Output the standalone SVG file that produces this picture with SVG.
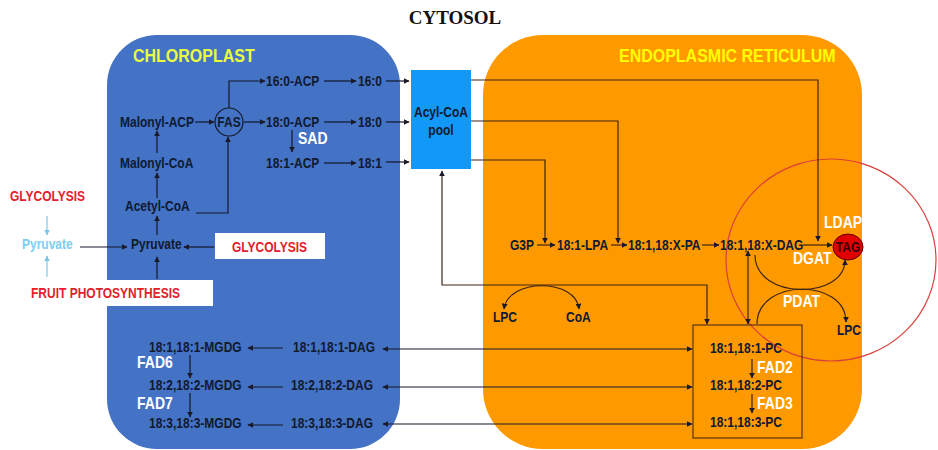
<svg xmlns="http://www.w3.org/2000/svg" width="938" height="450" viewBox="0 0 938 450">
<defs>
<marker id="ah" viewBox="0 0 10 10" refX="9" refY="5" markerWidth="6" markerHeight="6" markerUnits="userSpaceOnUse" orient="auto-start-reverse">
<path d="M0,0 L10,5 L0,10 z" fill="#1a1a2a"/>
</marker>
<marker id="ahb" viewBox="0 0 10 10" refX="9" refY="5" markerWidth="6" markerHeight="6" markerUnits="userSpaceOnUse" orient="auto-start-reverse">
<path d="M0,0 L10,5 L0,10 z" fill="#7cc6ea"/>
</marker>
</defs>
<style>
.t{font-family:"Liberation Sans",Arial,sans-serif;font-weight:bold;font-size:12px;fill:#101a30}
.w{font-family:"Liberation Sans",Arial,sans-serif;font-weight:bold;font-size:14px;fill:#ffffff}
.r{font-family:"Liberation Sans",Arial,sans-serif;font-weight:bold;font-size:12px;fill:#e3202a}
.y{font-family:"Liberation Sans",Arial,sans-serif;font-weight:bold;font-size:16px}
.c{fill:none;stroke:#14182a;stroke-width:1.2;marker-end:url(#ah)}
.d{fill:none;stroke:#14182a;stroke-width:1.2;marker-start:url(#ah);marker-end:url(#ah)}
.e{fill:none;stroke:#3d2514;stroke-width:1.2;marker-end:url(#ah)}
.ed{fill:none;stroke:#3d2514;stroke-width:1.2;marker-start:url(#ah);marker-end:url(#ah)}
.b{fill:none;stroke:#7cc6ea;stroke-width:1.2;marker-end:url(#ahb)}
</style>
<rect width="938" height="450" fill="#ffffff"/>
<g id="chloroplast">
<rect x="107" y="35" width="293" height="414" rx="50" fill="#4472c4"/>
<text class="y" transform="translate(133,62) scale(1,1.2)" fill="#eaff40">CHLOROPLAST</text>
</g>
<g id="er">
<rect x="483" y="35" width="379" height="414" rx="60" fill="#ff9900"/>
<text class="y" transform="translate(619,62) scale(1,1.2)" fill="#ffff00">ENDOPLASMIC RETICULUM</text>
</g>
<text x="455" y="24" text-anchor="middle" font-family="'Liberation Serif','Times New Roman',serif" font-weight="bold" font-size="19" fill="#111">CYTOSOL</text>
<g id="ldap-circle">
<ellipse cx="831" cy="260" rx="105" ry="101" fill="none" stroke="#d9403a" stroke-width="1.2"/>
</g>
<g id="glycolysis-box"><rect x="215" y="233" width="110" height="26" fill="#ffffff"/><text class="r" transform="translate(232,252) scale(1,1.2)">GLYCOLYSIS</text></g>
<g id="fruit-box"><rect x="24" y="280" width="189" height="26" fill="#ffffff"/><text class="r" transform="translate(31,298) scale(1,1.2)">FRUIT PHOTOSYNTHESIS</text></g>
<g id="pool"><rect x="411" y="70" width="60" height="99" fill="#1299f7"/><text class="t" transform="translate(441,117) scale(1,1.2)" text-anchor="middle" fill="#18284e">Acyl-CoA</text><text class="t" transform="translate(441,135) scale(1,1.2)" text-anchor="middle" fill="#18284e">pool</text></g>
<g id="pcbox"><rect x="693" y="325" width="109" height="113" fill="none" stroke="#5a3418" stroke-width="1.2"/></g>
<g id="connectors">
<path class="c" d="M324,81 H356"/>
<path class="c" d="M386,81 H409"/>
<path class="c" d="M324,122 H356"/>
<path class="c" d="M386,122 H409"/>
<path class="c" d="M324,163 H356"/>
<path class="c" d="M386,162 H409"/>
<path class="c" d="M292,130 V152"/>
<path class="c" d="M195,122 H214"/>
<path class="c" d="M244,122 H265"/>
<path class="c" d="M229,108 V81 H265"/>
<path class="c" d="M157,153 V131"/>
<path class="c" d="M157,198 V173"/>
<path class="c" d="M196,213 H228 V137"/>
<path class="c" d="M157,235 V216"/>
<path class="c" d="M157,279 V257"/>
<path class="c" d="M214,247 H184"/>
<path class="c" d="M80,247 H127"/>
<path class="b" d="M47,216 V235"/>
<path class="b" d="M47,277 V256"/>
<path class="e" d="M471,80 H818 V241"/>
<path class="e" d="M471,121 H618 V243"/>
<path class="e" d="M471,160 H545 V243"/>
<path class="e" d="M537,245 H555"/>
<path class="e" d="M611,245 H627"/>
<path class="e" d="M702,245 H719"/>
<path class="e" d="M803,245 H832"/>
<path class="ed" d="M442,171 V285 H707 V324"/>
<path class="ed" d="M504,309 C508,278 576,278 579,309"/>
<path class="ed" d="M748,251 V324"/>
<path class="e" d="M755,255 C755,300 845,300 845,260"/>
<path class="e" d="M757,324 C757,278 846,278 846,322"/>
<path class="e" d="M752,359 V378"/>
<path class="e" d="M752,394 V413"/>
<path class="d" d="M383,349 H692"/>
<path class="d" d="M383,387 H692"/>
<path class="d" d="M383,424 H692"/>
<path class="c" d="M283,348 H248"/>
<path class="c" d="M283,387 H248"/>
<path class="c" d="M283,425 H248"/>
<path class="c" d="M190,355 V378"/>
<path class="c" d="M190,393 V417"/>
</g>
<g id="fas"><circle cx="229" cy="122" r="14" fill="none" stroke="#14182a" stroke-width="1.2"/><text class="t" transform="translate(229,127) scale(1,1.2)" text-anchor="middle">FAS</text></g>
<g id="malonyl-acp"><text class="t" transform="translate(120,127) scale(1,1.2)">Malonyl-ACP</text></g>
<g id="malonyl-coa"><text class="t" transform="translate(120,168) scale(1,1.2)">Malonyl-CoA</text></g>
<g id="acp160"><text class="t" transform="translate(266,86) scale(1,1.2)">16:0-ACP</text></g>
<g id="fa160"><text class="t" transform="translate(358,86) scale(1,1.2)">16:0</text></g>
<g id="acp180"><text class="t" transform="translate(266,127) scale(1,1.2)">18:0-ACP</text></g>
<g id="fa180"><text class="t" transform="translate(358,127) scale(1,1.2)">18:0</text></g>
<g id="acp181"><text class="t" transform="translate(266,168) scale(1,1.2)">18:1-ACP</text></g>
<g id="fa181"><text class="t" transform="translate(358,168) scale(1,1.2)">18:1</text></g>
<text class="w" transform="translate(298,144) scale(1,1.2)">SAD</text>
<g id="acetyl-coa"><text class="t" transform="translate(125,211) scale(1,1.2)">Acetyl-CoA</text></g>
<g id="pyruvate"><text class="t" transform="translate(131,249) scale(1,1.2)">Pyruvate</text></g>
<g id="pyruvate-cyt"><text class="t" transform="translate(22,249) scale(1,1.2)" style="fill:#80cdf0">Pyruvate</text></g>
<g id="glycolysis-cyt"><text class="r" transform="translate(10,201) scale(1,1.2)">GLYCOLYSIS</text></g>
<g id="g3p"><text class="t" transform="translate(510,250) scale(1,1.2)">G3P</text></g>
<g id="lpa"><text class="t" transform="translate(557,250) scale(1,1.2)">18:1-LPA</text></g>
<g id="pa"><text class="t" transform="translate(628,250) scale(1,1.2)">18:1,18:X-PA</text></g>
<g id="dag"><text class="t" transform="translate(720,250) scale(1,1.2)">18:1,18:X-DAG</text></g>
<g id="tag"><ellipse cx="848" cy="247" rx="15" ry="13" fill="#e00000" stroke="#5a0000" stroke-width="1"/><text class="t" transform="translate(848,252) scale(1,1.2)" text-anchor="middle" style="fill:#3a0000">TAG</text></g>
<text class="w" transform="translate(824,228) scale(1,1.2)">LDAP</text>
<text class="w" transform="translate(793,264) scale(1,1.2)">DGAT</text>
<text class="w" transform="translate(783,307) scale(1,1.2)">PDAT</text>
<g id="lpc-r"><text class="t" transform="translate(837,335) scale(1,1.2)">LPC</text></g>
<g id="lpc-l"><text class="t" transform="translate(493,322) scale(1,1.2)">LPC</text></g>
<g id="coa"><text class="t" transform="translate(566,322) scale(1,1.2)">CoA</text></g>
<g id="pc1"><text class="t" transform="translate(710,353) scale(1,1.2)">18:1,18:1-PC</text></g>
<g id="pc2"><text class="t" transform="translate(710,390) scale(1,1.2)">18:1,18:2-PC</text></g>
<g id="pc3"><text class="t" transform="translate(710,427) scale(1,1.2)">18:1,18:3-PC</text></g>
<text class="w" transform="translate(757,373) scale(1,1.2)">FAD2</text>
<text class="w" transform="translate(757,409) scale(1,1.2)">FAD3</text>
<g id="mgdg1"><text class="t" transform="translate(149,352) scale(1,1.2)">18:1,18:1-MGDG</text></g>
<g id="mgdg2"><text class="t" transform="translate(149,390) scale(1,1.2)">18:2,18:2-MGDG</text></g>
<g id="mgdg3"><text class="t" transform="translate(149,428) scale(1,1.2)">18:3,18:3-MGDG</text></g>
<g id="dag1"><text class="t" transform="translate(293,352) scale(1,1.2)">18:1,18:1-DAG</text></g>
<g id="dag2"><text class="t" transform="translate(291,390) scale(1,1.2)">18:2,18:2-DAG</text></g>
<g id="dag3"><text class="t" transform="translate(291,428) scale(1,1.2)">18:3,18:3-DAG</text></g>
<text class="w" transform="translate(137,368) scale(1,1.2)">FAD6</text>
<text class="w" transform="translate(137,409) scale(1,1.2)">FAD7</text>
</svg>
